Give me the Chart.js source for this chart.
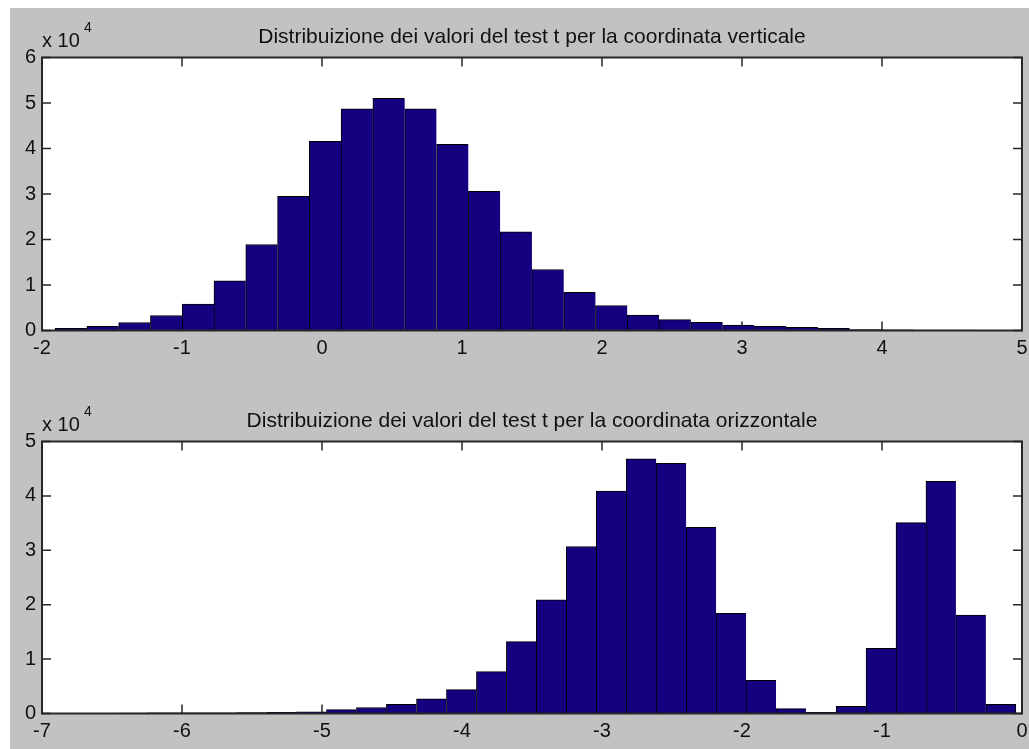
<!DOCTYPE html>
<html>
<head>
<meta charset="utf-8">
<script src="https://cdn.jsdelivr.net/npm/chart.js@4.4.1/dist/chart.umd.min.js"></script>
<style>
html, body { margin: 0; padding: 0; background: #ffffff; width: 1029px; height: 749px; overflow: hidden; }
#bg { position: absolute; left: 10px; top: 8px; width: 1019px; height: 741px; background: #c2c2c2; }
canvas { position: absolute; left: 0; }
#c1 { top: 0; }
#c2 { top: 370px; }
</style>
</head>
<body>
<div id="bg"></div>
<canvas id="c1" width="1029" height="370"></canvas>
<canvas id="c2" width="1029" height="379"></canvas>
<script>
// ---------------- DATA ----------------
const topTitle = 'Distribuizione dei valori del test t per la coordinata verticale';
const bottomTitle = 'Distribuizione dei valori del test t per la coordinata orizzontale';

// bin centres (x values of the histogram bars)
const topBinCenters = [-1.793, -1.566, -1.339, -1.112, -0.885, -0.658, -0.431, -0.204, 0.023, 0.250,
                        0.477, 0.704, 0.932, 1.159, 1.386, 1.613, 1.840, 2.067, 2.294, 2.521,
                        2.748, 2.975, 3.202, 3.429, 3.656, 3.883, 4.110, 4.337, 4.565, 4.792];
const topCounts = [500, 900, 1750, 3300, 5800, 10900, 18900, 29500, 41600, 48700,
                   51000, 48700, 40900, 30600, 21700, 13400, 8400, 5500, 3400, 2400,
                   1800, 1200, 900, 700, 500, 200, 150, 100, 80, 50];

const bottomBinCenters = [-6.359, -6.145, -5.931, -5.717, -5.503, -5.289, -5.075, -4.861, -4.647, -4.433,
                          -4.218, -4.004, -3.790, -3.576, -3.362, -3.148, -2.934, -2.720, -2.506, -2.292,
                          -2.078, -1.864, -1.650, -1.436, -1.221, -1.007, -0.793, -0.579, -0.365, -0.151];
const bottomCounts = [100, 120, 130, 140, 160, 200, 300, 700, 1100, 1700,
                      2700, 4400, 7700, 13200, 20900, 30700, 40900, 46800, 46000, 34200,
                      18400, 6100, 900, 200, 1300, 12000, 35100, 42700, 18100, 1700];

const topXTicks = [-2, -1, 0, 1, 2, 3, 4, 5];
const topYTicks = [0, 10000, 20000, 30000, 40000, 50000, 60000];
const bottomXTicks = [-7, -6, -5, -4, -3, -2, -1, 0];
const bottomYTicks = [0, 10000, 20000, 30000, 40000, 50000];
const yScaleDivisor = 10000;
const yExponentBase = 'x 10';
const yExponent = '4';

// ---------------- STYLE ----------------
const FONT = "'Liberation Sans', Arial, Helvetica, sans-serif";
Chart.defaults.font.family = FONT;
const BAR_FILL = '#15007f';
const TEXT = '#111111';
const AXIS = '#262626';
const TICK_LEN = 9;

function matlabAxesPlugin(cfg) {
  return {
    id: 'matlabAxes',
    beforeDraw(chart) {
      const { ctx, chartArea: a } = chart;
      ctx.save();
      ctx.fillStyle = '#ffffff';
      ctx.fillRect(a.left, a.top, a.right - a.left, a.bottom - a.top);
      ctx.restore();
    },
    beforeDatasetsDraw(chart) {
      const { ctx, chartArea: a, scales } = chart;
      const x = scales.x, y = scales.y;
      ctx.save();
      ctx.strokeStyle = AXIS;
      ctx.lineWidth = 1.5;
      ctx.beginPath();
      x.ticks.forEach(t => {
        const px = x.getPixelForValue(t.value);
        ctx.moveTo(px, a.top); ctx.lineTo(px, a.top + TICK_LEN);
        ctx.moveTo(px, a.bottom); ctx.lineTo(px, a.bottom - TICK_LEN);
      });
      y.ticks.forEach(t => {
        const py = y.getPixelForValue(t.value);
        ctx.moveTo(a.left, py); ctx.lineTo(a.left + TICK_LEN, py);
        ctx.moveTo(a.right, py); ctx.lineTo(a.right - TICK_LEN, py);
      });
      ctx.stroke();
      ctx.restore();
    },
    afterDatasetsDraw(chart) {
      const { ctx, chartArea: a } = chart;
      ctx.save();
      ctx.strokeStyle = AXIS;
      ctx.lineWidth = 2;
      ctx.strokeRect(a.left, a.top, a.right - a.left, a.bottom - a.top);
      // title
      ctx.fillStyle = TEXT;
      ctx.textBaseline = 'alphabetic';
      ctx.textAlign = 'center';
      ctx.font = '21px ' + FONT;
      ctx.fillText(cfg.title, (a.left + a.right) / 2, a.top - 15);
      // exponent label
      ctx.textAlign = 'left';
      ctx.font = '20px ' + FONT;
      ctx.fillText(yExponentBase, a.left, a.top - 10.5);
      ctx.font = '14px ' + FONT;
      ctx.fillText(yExponent, a.left + 42, a.top - 25.5);
      ctx.restore();
    }
  };
}

function makeHist(canvasId, centers, counts, xTicks, yTicks, title, padding) {
  const last = counts.length - 1;
  const data = centers.map((c, i) => ({ x: c, y: counts[i] }));
  return new Chart(document.getElementById(canvasId), {
    type: 'bar',
    data: {
      datasets: [{
        data: data,
        backgroundColor: BAR_FILL,
        borderColor: '#000000',
        borderWidth: (ctx) => ({ top: 1, left: 1, bottom: 0, right: ctx.dataIndex === last ? 1 : 0 }),
        borderSkipped: false,
        barPercentage: 1,
        categoryPercentage: 1
      }]
    },
    options: {
      responsive: false,
      animation: false,
      devicePixelRatio: 1,
      layout: { padding: padding },
      plugins: { legend: { display: false }, tooltip: { enabled: false }, title: { display: false } },
      scales: {
        x: {
          type: 'linear',
          min: xTicks[0],
          max: xTicks[xTicks.length - 1],
          offset: false,
          grid: { display: false, drawTicks: false, offset: false },
          border: { display: false },
          ticks: { padding: 6, color: TEXT, font: { size: 20 }, maxRotation: 0, autoSkip: false },
          afterBuildTicks(s) { s.ticks = xTicks.map(v => ({ value: v })); },
          afterFit(s) { s.height = 30; s.paddingLeft = 0; s.paddingRight = 0; }
        },
        y: {
          type: 'linear',
          min: yTicks[0],
          max: yTicks[yTicks.length - 1],
          grid: { display: false, drawTicks: false },
          border: { display: false },
          ticks: { padding: 6, color: TEXT, font: { size: 20 }, callback: v => String(v / yScaleDivisor) },
          afterBuildTicks(s) { s.ticks = yTicks.map(v => ({ value: v })); },
          afterFit(s) { s.width = 42; s.paddingTop = 0; s.paddingBottom = 0; }
        }
      }
    },
    plugins: [matlabAxesPlugin({ title: title })]
  });
}

makeHist('c1', topBinCenters, topCounts, topXTicks, topYTicks, topTitle,
         { left: 0, right: 7, top: 57.5, bottom: 9.5 });
makeHist('c2', bottomBinCenters, bottomCounts, bottomXTicks, bottomYTicks, bottomTitle,
         { left: 0, right: 7, top: 71.5, bottom: 5.5 });
</script>
</body>
</html>
